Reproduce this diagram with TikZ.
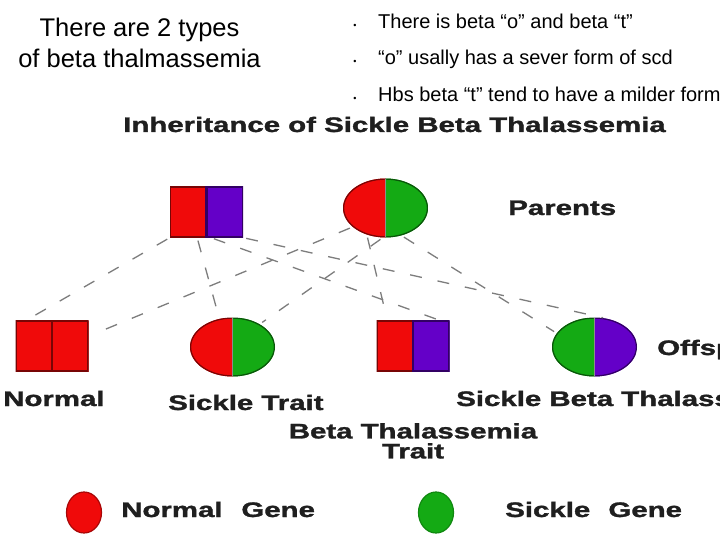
\documentclass[tikz,border=0pt]{standalone}
\usepackage{fontspec}
\setmainfont{Liberation Sans}
\newfontfamily\heavyfont{Liberation Sans}[UprightFont={* Bold}, UprightFeatures={FakeBold=1.3}]
\usetikzlibrary{shapes.geometric}
\definecolor{redf}{RGB}{240,10,10}
\definecolor{purf}{RGB}{100,0,200}
\definecolor{grnf}{RGB}{20,170,20}
\definecolor{dashc}{RGB}{125,125,125}
\begin{document}
\begin{tikzpicture}[x=1pt,y=-1pt,
  sqbox/.style={rectangle, minimum width=73pt, minimum height=51pt, inner sep=0pt},
  ovbox/.style={ellipse, minimum width=85pt, minimum height=59pt, inner sep=0pt},
  sqhalves/.style 2 args={path picture={
     \fill[#1] (path picture bounding box.south west) rectangle (path picture bounding box.north);
     \fill[#2] (path picture bounding box.south) rectangle (path picture bounding box.north east);
     \draw[#1!50!black, line width=2.4pt] (path picture bounding box.south west) -- (path picture bounding box.north west) -- (path picture bounding box.north) -- (path picture bounding box.south) -- cycle;
     \draw[#2!50!black, line width=2.4pt] (path picture bounding box.south) -- (path picture bounding box.north) -- (path picture bounding box.north east) -- (path picture bounding box.south east) -- cycle;
  }},
  ovhalves/.style 2 args={path picture={
     \fill[#1] (path picture bounding box.south west) rectangle (path picture bounding box.north);
     \fill[#2] (path picture bounding box.south) rectangle (path picture bounding box.north east);
     \begin{scope}
       \clip (path picture bounding box.south west) rectangle (path picture bounding box.north);
       \draw[#1!50!black, line width=2.4pt] (path picture bounding box.center) ellipse [x radius=42.5pt, y radius=29.5pt];
     \end{scope}
     \begin{scope}
       \clip (path picture bounding box.south) rectangle (path picture bounding box.north east);
       \draw[#2!50!black, line width=2.4pt] (path picture bounding box.center) ellipse [x radius=42.5pt, y radius=29.5pt];
     \end{scope}
     \draw[black!45, line width=1pt] (path picture bounding box.south) -- (path picture bounding box.north);
  }},
  gtext/.style={font=\heavyfont\fontsize{21}{20}\selectfont, xscale=1.4, inner sep=0pt, text=black!88},
  btext/.style={font=\fontsize{20}{24}\selectfont, anchor=base west, inner sep=0pt},
  bdot/.style={font=\fontsize{9}{9}\selectfont, anchor=base, inner sep=0pt},
  conn/.style={draw=dashc, line width=1.3pt, dash pattern=on 12pt off 16pt, shorten <=3pt, shorten >=3pt},
  gene/.style={ellipse, minimum width=35pt, minimum height=41pt, inner sep=0pt, line width=1.2pt},
]
\useasboundingbox (0,0) rectangle (720,540);
\clip (0,0) rectangle (720,540);
\fill[white] (0,0) rectangle (720,540);

% heading texts
\node[font=\fontsize{25.5}{30}\selectfont, anchor=base, inner sep=0pt] (h1) at (139.5,36.5) {There are 2 types};
\node[font=\fontsize{25.5}{30}\selectfont, anchor=base, inner sep=0pt] (h2) at (139.5,68) {of beta thalmassemia};

\node[bdot] (d1) at (355,29) {•};
\node[bdot] (d2) at (355,65) {•};
\node[bdot] (d3) at (355,102) {•};
\node[btext] (b1) at (378,29) {There is beta “o” and beta “t”};
\node[btext] (b2) at (378,65) {“o” usally has a sever form of scd};
\node[btext] (b3) at (378,102) {Hbs beta “t” tend to have a milder form};

% title
\node[gtext, anchor=base] (title) at (394.5,132) {Inheritance of Sickle Beta Thalassemia};

% parents
\node[sqbox, sqhalves={redf}{purf}] (F) at (206.5,212) {};
\node[ovbox, ovhalves={redf}{grnf}] (M) at (385.5,208) {};
\node[gtext, anchor=base west] (par) at (508,215) {Parents};

% offspring
\node[sqbox, sqhalves={redf}{redf}] (N) at (52,346) {};
\node[ovbox, ovhalves={redf}{grnf}] (ST) at (232.5,347) {};
\node[sqbox, sqhalves={redf}{purf}] (B) at (413,346) {};
\node[ovbox, ovhalves={grnf}{purf}] (SBT) at (594.5,347) {};
\node[gtext, anchor=base west] (off) at (657,355) {Offspring};

% offspring labels
\node[gtext, anchor=base west] (lN) at (3,406) {Normal};
\node[gtext, anchor=base west] (lST) at (168,410) {Sickle Trait};
\node[gtext, anchor=base west] (lSBT) at (456,406) {Sickle Beta Thalassemia};
\node[gtext, anchor=north, align=center] (lB) at (413,423) {Beta Thalassemia\\Trait};

% connectors
\draw[conn] (F.south west) -- (N.135);
\draw[conn] (F.-110) -- (ST.115);
\draw[conn] (F.-80) -- (B.44);
\draw[conn] (F.south east) -- (SBT.68);
\draw[conn] (M.-150) -- (N.15);
\draw[conn] (M.-95) -- (ST.40);
\draw[conn] (M.-125) -- (B.135);
\draw[conn] (M.-60) -- (SBT.160);

% legend
\node[gene, fill=redf, draw=redf!70!black] (gR) at (84,512.5) {};
\node[gtext, anchor=base west] (tR) at (121,517) {Normal\hspace{13.5pt}Gene};
\node[gene, fill=grnf, draw=grnf!80!black] (gG) at (436,512.5) {};
\node[gtext, anchor=base west] (tG) at (505,517) {Sickle\hspace{13pt}Gene};
\end{tikzpicture}
\end{document}
